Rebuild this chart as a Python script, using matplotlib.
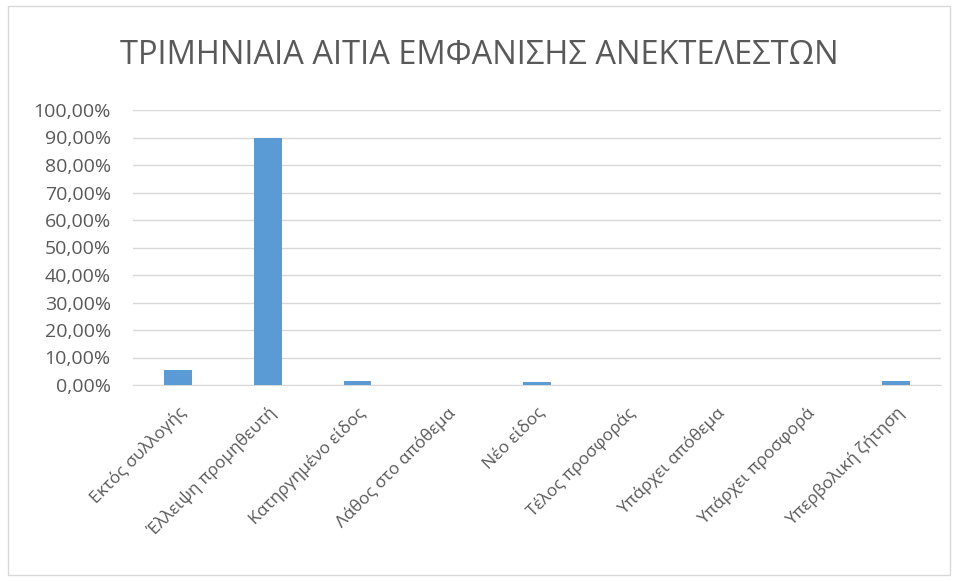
import matplotlib
matplotlib.use("Agg")
import matplotlib.pyplot as plt
from matplotlib.patches import Rectangle
from matplotlib.ticker import FuncFormatter

# data
categories = ["Εκτός συλλογής", "Έλλειψη προμηθευτή", "Κατηργημένο είδος",
              "Λάθος στο απόθεμα", "Νέο είδος", "Τέλος προσφοράς",
              "Υπάρχει απόθεμα", "Υπάρχει προσφορά", "Υπερβολική ζήτηση"]
shares = [0.054, 0.898, 0.015, 0.0, 0.011, 0.0, 0.0, 0.0, 0.015]
title = "ΤΡΙΜΗΝΙΑΙΑ ΑΙΤΙΑ ΕΜΦΑΝΙΣΗΣ ΑΝΕΚΤΕΛΕΣΤΩΝ"

plt.rcParams["font.family"] = ["Open Sans", "DejaVu Sans"]
TXT = "#595959"

fig = plt.figure(figsize=(9.58, 5.81), dpi=100)
ax = fig.add_axes([133 / 958, 1 - 385 / 581, (941 - 133) / 958, (385 - 110) / 581])

x = range(len(categories))
ax.bar(x, shares, width=0.31, color="#5b9bd5", zorder=3)

ax.set_ylim(0, 1.0)
ax.set_xlim(-0.5, len(categories) - 0.5)
ax.set_yticks([i / 10 for i in range(11)])
ax.yaxis.set_major_formatter(FuncFormatter(lambda v, _: f"{v * 100:.2f}%".replace(".", ",")))
ax.grid(axis="y", color="#d9d9d9", linewidth=1, zorder=0)
for s in ["top", "right", "left"]:
    ax.spines[s].set_visible(False)
ax.spines["bottom"].set_color("#d9d9d9")
ax.tick_params(axis="both", length=0, colors=TXT)
ax.tick_params(axis="y", pad=16, labelsize=14)
ax.set_xticks(list(x))
ax.set_xticklabels(categories, rotation=45, ha="right", rotation_mode="anchor", fontsize=12.5)
ax.tick_params(axis="x", pad=14)

fig.text(0.5, 1 - 56 / 581, title, ha="center", va="center", fontsize=23.5, color=TXT)
fig.patches.append(Rectangle((8 / 958, 6 / 581), 942 / 958, 569 / 581, transform=fig.transFigure,
                             fill=False, edgecolor="#d9d9d9", linewidth=1))

fig.savefig("out.png", dpi=100)
